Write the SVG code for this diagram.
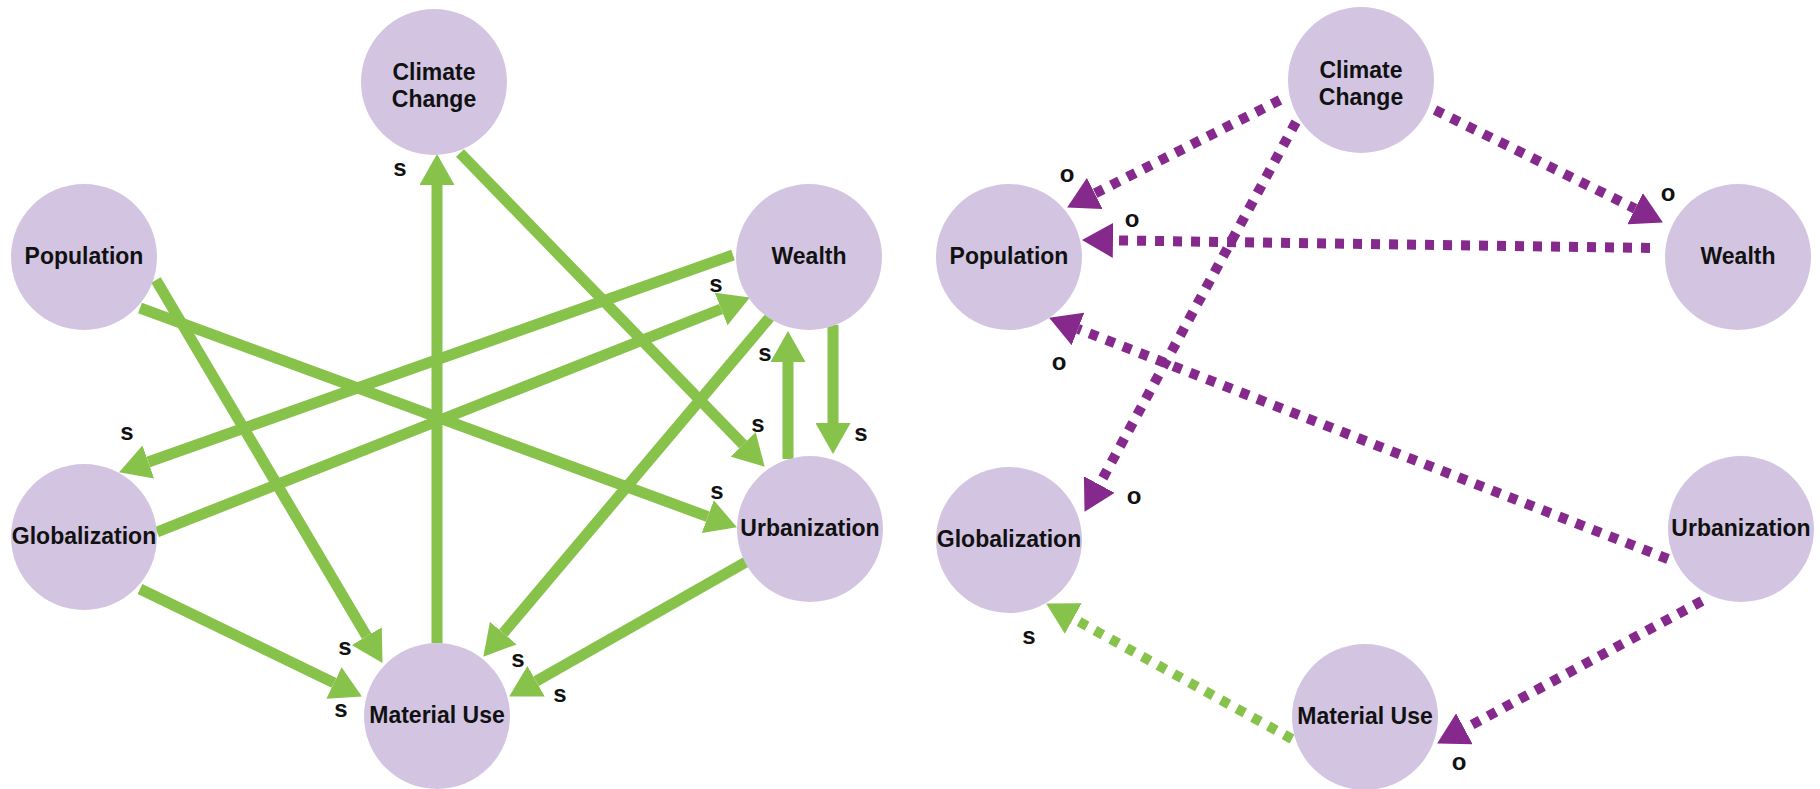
<svg xmlns="http://www.w3.org/2000/svg" width="1820" height="789" viewBox="0 0 1820 789">
<style>
.node{fill:#d3c5e2}
.lbl{font-family:"Liberation Sans",Arial,sans-serif;font-weight:bold;font-size:23px;fill:#111;text-anchor:middle}
.el{font-family:"Liberation Sans",Arial,sans-serif;font-weight:bold;font-size:24px;fill:#111;text-anchor:middle}
.g{stroke:#87c24b;stroke-width:11;fill:none}
.gd{stroke:#87c24b;stroke-width:10;fill:none;stroke-dasharray:9 9}
.pd{stroke:#86298d;stroke-width:10;fill:none;stroke-dasharray:9 9}
</style>
<defs>
<marker id="ag" markerUnits="userSpaceOnUse" markerWidth="31" markerHeight="35" viewBox="0 0 31 35" refX="0" refY="17.5" orient="auto"><path d="M0,0 L31,17.5 L0,35 z" fill="#87c24b"/></marker>
<marker id="ap" markerUnits="userSpaceOnUse" markerWidth="31" markerHeight="35" viewBox="0 0 31 35" refX="0" refY="17.5" orient="auto"><path d="M0,0 L31,17.5 L0,35 z" fill="#86298d"/></marker>
</defs>
<g id="connectors">
<line class="g" x1="437" y1="643" x2="437" y2="185" marker-end="url(#ag)"/>
<line class="g" x1="460" y1="153" x2="743.1" y2="444.5" marker-end="url(#ag)"/>
<line class="g" x1="156" y1="280" x2="366.7" y2="636.2" marker-end="url(#ag)"/>
<line class="g" x1="140" y1="308" x2="707.8" y2="516.6" marker-end="url(#ag)"/>
<line class="g" x1="733" y1="255" x2="148.3" y2="462" marker-end="url(#ag)"/>
<line class="g" x1="157" y1="532" x2="721.1" y2="309" marker-end="url(#ag)"/>
<line class="g" x1="770" y1="317" x2="503.3" y2="633.1" marker-end="url(#ag)"/>
<line class="g" x1="788" y1="459" x2="788" y2="362" marker-end="url(#ag)"/>
<line class="g" x1="833" y1="325" x2="833" y2="423" marker-end="url(#ag)"/>
<line class="g" x1="140" y1="589" x2="334" y2="682.9" marker-end="url(#ag)"/>
<line class="g" x1="746" y1="562" x2="536.1" y2="681.2" marker-end="url(#ag)"/>
<line class="pd" x1="1280" y1="100" x2="1094.8" y2="193.5" marker-end="url(#ap)"/>
<line class="pd" x1="1296" y1="122" x2="1099.3" y2="484.6" marker-end="url(#ap)"/>
<line class="pd" x1="1435" y1="110" x2="1635.1" y2="208.7" marker-end="url(#ap)"/>
<line class="pd" x1="1650" y1="248" x2="1113" y2="240.4" marker-end="url(#ap)"/>
<line class="pd" x1="1668" y1="559" x2="1078" y2="328.9" marker-end="url(#ap)"/>
<line class="pd" x1="1702" y1="601" x2="1464.4" y2="728.8" marker-end="url(#ap)"/>
<line class="gd" x1="1292" y1="739" x2="1073.3" y2="618.5" marker-end="url(#ag)"/>
<g id="edge-labels">
<text class="el" x="400" y="176">s</text>
<text class="el" x="758" y="432">s</text>
<text class="el" x="345" y="655">s</text>
<text class="el" x="717" y="499">s</text>
<text class="el" x="127" y="440">s</text>
<text class="el" x="716" y="292">s</text>
<text class="el" x="518" y="667">s</text>
<text class="el" x="765" y="361">s</text>
<text class="el" x="861" y="441">s</text>
<text class="el" x="341" y="717">s</text>
<text class="el" x="560" y="702">s</text>
<text class="el" x="1067" y="182">o</text>
<text class="el" x="1132" y="227">o</text>
<text class="el" x="1668" y="201">o</text>
<text class="el" x="1134" y="504">o</text>
<text class="el" x="1059" y="370">o</text>
<text class="el" x="1459" y="770">o</text>
<text class="el" x="1029" y="644">s</text>
</g>
</g>
<g id="L-climate"><circle class="node" cx="434" cy="82" r="73"/><text class="lbl" x="434" y="80">Climate</text><text class="lbl" x="434" y="107">Change</text></g>
<g id="L-population"><circle class="node" cx="84" cy="257" r="73"/><text class="lbl" x="84" y="264">Population</text></g>
<g id="L-wealth"><circle class="node" cx="809" cy="257" r="73"/><text class="lbl" x="809" y="264">Wealth</text></g>
<g id="L-globalization"><circle class="node" cx="84" cy="537" r="73"/><text class="lbl" x="84" y="544">Globalization</text></g>
<g id="L-urbanization"><circle class="node" cx="810" cy="529" r="73"/><text class="lbl" x="810" y="536">Urbanization</text></g>
<g id="L-material"><circle class="node" cx="437" cy="716" r="73"/><text class="lbl" x="437" y="723">Material Use</text></g>
<g id="R-climate"><circle class="node" cx="1361" cy="80" r="73"/><text class="lbl" x="1361" y="78">Climate</text><text class="lbl" x="1361" y="105">Change</text></g>
<g id="R-population"><circle class="node" cx="1009" cy="257" r="73"/><text class="lbl" x="1009" y="264">Population</text></g>
<g id="R-wealth"><circle class="node" cx="1738" cy="257" r="73"/><text class="lbl" x="1738" y="264">Wealth</text></g>
<g id="R-globalization"><circle class="node" cx="1009" cy="540" r="73"/><text class="lbl" x="1009" y="547">Globalization</text></g>
<g id="R-urbanization"><circle class="node" cx="1741" cy="529" r="73"/><text class="lbl" x="1741" y="536">Urbanization</text></g>
<g id="R-material"><circle class="node" cx="1365" cy="717" r="73"/><text class="lbl" x="1365" y="724">Material Use</text></g>
</svg>
